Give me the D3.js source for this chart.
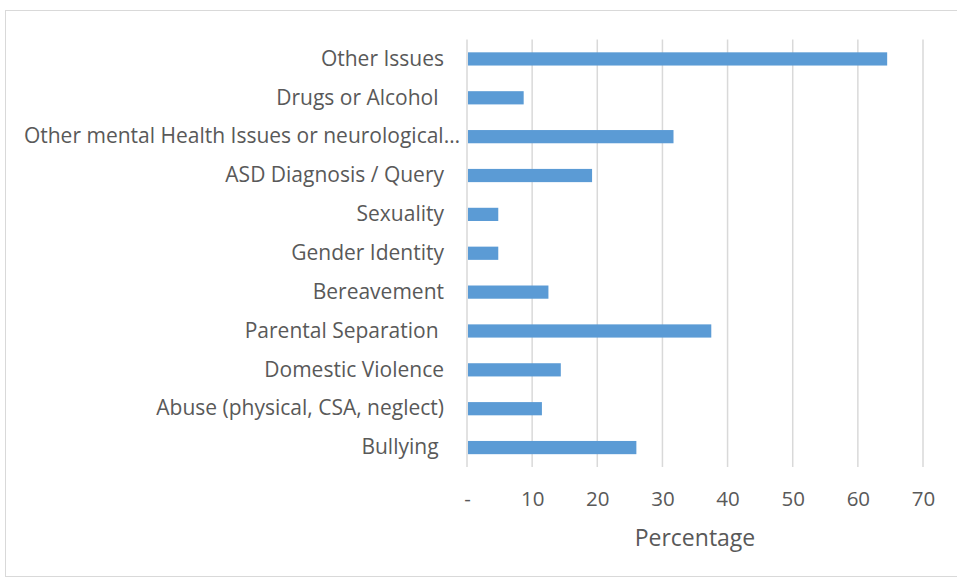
<!DOCTYPE html>
<html>
<head>
<meta charset="utf-8">
<script src="https://cdn.jsdelivr.net/npm/d3@7"></script>
<style>
  html, body { margin: 0; padding: 0; background: #fff; }
  svg text { font-family: "Open Sans", "Liberation Sans", sans-serif; fill: #595959; white-space: pre; }
</style>
</head>
<body>
<svg id="chart" width="957" height="579"></svg>
<script>
// Categories, top to bottom
const categories = [
  "Other Issues",
  "Drugs or Alcohol ",
  "Other mental Health Issues or neurological…",
  "ASD Diagnosis / Query",
  "Sexuality",
  "Gender Identity",
  "Bereavement",
  "Parental Separation ",
  "Domestic Violence",
  "Abuse (physical, CSA, neglect)",
  "Bullying "
];
// Percentage for each category
const percentages = [64.5, 8.7, 31.7, 19.2, 4.8, 4.8, 12.5, 37.5, 14.4, 11.5, 26.0];
const xTicks = [0, 10, 20, 30, 40, 50, 60, 70];
const xTickLabels = ["-", "10", "20", "30", "40", "50", "60", "70"];
const axisTitle = "Percentage";

const svg = d3.select("#chart");
const plot = { left: 467, right: 923, top: 39.5, bottom: 467 };

// Chart area frame
svg.append("rect")
  .attr("x", 5.5).attr("y", 10.5)
  .attr("width", 960).attr("height", 566)
  .attr("fill", "#fff").attr("stroke", "#d9d9d9").attr("stroke-width", 1);

const x = d3.scaleLinear().domain([0, 70]).range([plot.left, plot.right]);
const y = d3.scaleBand().domain(categories).range([plot.top, plot.bottom]).paddingInner(0.66).paddingOuter(0.33);

// Vertical gridlines
svg.append("g")
  .selectAll("line")
  .data(xTicks)
  .join("line")
  .attr("x1", d => x(d)).attr("x2", d => x(d))
  .attr("y1", plot.top).attr("y2", plot.bottom)
  .attr("stroke", "#d9d9d9").attr("stroke-width", 1.5);

// Bars
const rows = categories.map((c, i) => ({ c, v: percentages[i] }));
svg.append("g")
  .selectAll("rect")
  .data(rows)
  .join("rect")
  .attr("x", x(0) + 1)
  .attr("y", d => y(d.c))
  .attr("width", d => x(d.v) - x(0) - 1)
  .attr("height", y.bandwidth())
  .attr("fill", "#5b9bd5");

// X axis (labels only)
const xAxis = d3.axisBottom(x)
  .tickValues(xTicks)
  .tickFormat((d, i) => xTickLabels[i])
  .tickSize(0).tickPadding(0);
const gx = svg.append("g")
  .attr("transform", `translate(0,${plot.bottom + 39})`)
  .call(xAxis);
gx.select(".domain").remove();
gx.selectAll("text")
  .attr("dy", "0")
  .style("font-size", "20.5px")
  .attr("fill", "#595959");

// Y axis (category labels)
const yAxis = d3.axisLeft(y).tickSize(0).tickPadding(0);
const gy = svg.append("g")
  .attr("transform", `translate(${plot.left - 23},0)`)
  .call(yAxis);
gy.select(".domain").remove();
gy.selectAll("text")
  .style("font-size", "21px")
  .attr("fill", "#595959")
  .attr("dx", d => d.endsWith("…") ? 16 : 0);

// Axis title
svg.append("text")
  .attr("x", (plot.left + plot.right) / 2)
  .attr("y", 546)
  .attr("text-anchor", "middle")
  .style("font-size", "23px")
  .text(axisTitle);
</script>
</body>
</html>
